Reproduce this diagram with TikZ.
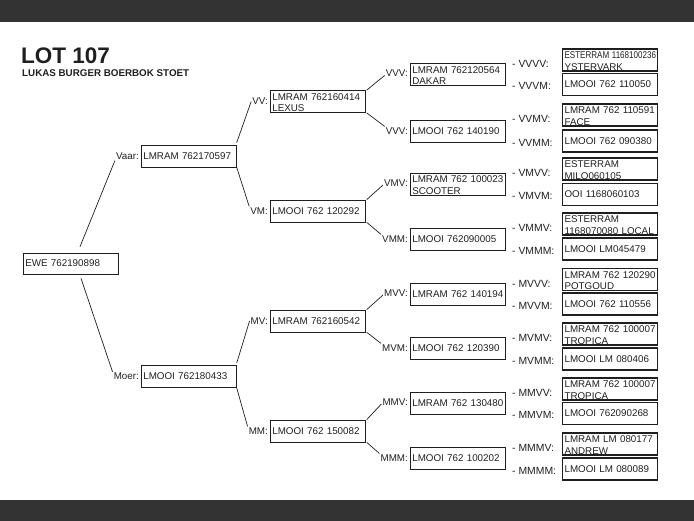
\documentclass[tikz,border=0pt]{standalone}
\usepackage{graphicx}
\usepackage{fontspec}
\setmainfont{Liberation Sans}
\usetikzlibrary{positioning, calc}
\definecolor{barGray}{rgb}{0.2, 0.2, 0.2}
\definecolor{inkGray}{rgb}{0.12, 0.12, 0.12}

\begin{document}
\begin{tikzpicture}[x=1pt, y=-1pt, font=\fontsize{9.8}{10.5}\selectfont, text=inkGray,
    animal/.style={draw=inkGray, line width=0.7pt, anchor=west, minimum width=95pt, minimum height=22pt,
        inner xsep=2pt, inner ysep=1pt, text width=91pt, align=left},
    twoline/.style={animal, font=\fontsize{9.8}{11.6}\selectfont, inner ysep=0.5pt, text height=9.2pt, text depth=11.8pt},
    outer/.style={line width=1.1pt},
    tag/.style={anchor=east, inner sep=1pt},
    gtag/.style={anchor=west, inner sep=1pt, font=\fontsize{10.4}{11}\selectfont},
    link/.style={draw=inkGray, line width=0.7pt}]
    \useasboundingbox (0,0) rectangle (694,521);

    % Frame bars
    \fill [barGray] (0,0) rectangle (694,22);
    \fill [barGray] (0,500) rectangle (694,521);

    % Title
    \node [anchor=base west, inner sep=0pt, font=\fontsize{22.5}{22.5}\selectfont\bfseries] (lot) at (21,63.5) {LOT 107};
    \node [anchor=base west, inner sep=0pt, font=\fontsize{9.8}{9.8}\selectfont\bfseries] (owner) at (22,77) {LUKAS BURGER BOERBOK STOET};

    % Ewe
    \node [animal, minimum height=21pt] (ewe) at (23,263.5) {EWE 762190898};

    % Parents
    \node [animal] (v) at (141,156) {LMRAM 762170597};
    \node [tag] (vtag) at ([xshift=-1pt]v.west) {Vaar:};
    \node [animal] (m) at (141,376.5) {LMOOI 762180433};
    \node [tag] (mtag) at ([xshift=-1pt]m.west) {Moer:};
    \draw [link] ([xshift=57pt,yshift=6pt]ewe.north west) -- (vtag.south west);
    \draw [link] ([xshift=58pt,yshift=-4pt]ewe.south west) -- (mtag.north west);

    % Grandparents
    \node [twoline] (vv) at (270,101.5) {LMRAM 762160414\\LEXUS};
    \node [tag] (vvtag) at ([xshift=-1pt]vv.west) {VV:};
    \node [animal] (vm) at (270,211) {LMOOI 762 120292};
    \node [tag] (vmtag) at ([xshift=-1pt]vm.west) {VM:};
    \node [animal] (mv) at (270,321) {LMRAM 762160542};
    \node [tag] (mvtag) at ([xshift=-1pt]mv.west) {MV:};
    \node [animal] (mm) at (270,431) {LMOOI 762 150082};
    \node [tag] (mmtag) at ([xshift=-1pt]mm.west) {MM:};
    \draw [link] ([yshift=2pt]v.north east) -- (vvtag.west);
    \draw [link] (v.south east) -- (vmtag.north west);
    \draw [link] ([yshift=2pt]m.north east) -- (mvtag.west);
    \draw [link] (m.south east) -- (mmtag.north west);

    % Great-grandparents
    \node [twoline] (vvv) at (410,74.5) {LMRAM 762120564\\DAKAR};
    \node [tag] (vvvtag) at ([xshift=-1pt,yshift=1pt]vvv.west) {VVV:};
    \node [animal] (vvm) at (410,131) {LMOOI 762 140190};
    \node [tag] (vvmtag) at ([xshift=-1pt]vvm.west) {VVV:};
    \node [twoline] (vmv) at (410,184) {LMRAM 762 100023\\SCOOTER};
    \node [tag] (vmvtag) at ([xshift=-1pt,yshift=1pt]vmv.west) {VMV:};
    \node [animal] (vmm) at (410,239) {LMOOI 762090005};
    \node [tag] (vmmtag) at ([xshift=-1pt]vmm.west) {VMM:};
    \node [animal] (mvv) at (410,294) {LMRAM 762 140194};
    \node [tag] (mvvtag) at ([xshift=-1pt,yshift=1pt]mvv.west) {MVV:};
    \node [animal] (mvm) at (410,348) {LMOOI 762 120390};
    \node [tag] (mvmtag) at ([xshift=-1pt]mvm.west) {MVM:};
    \node [animal] (mmv) at (410,403) {LMRAM 762 130480};
    \node [tag] (mmvtag) at ([xshift=-1pt,yshift=1pt]mmv.west) {MMV:};
    \node [animal] (mmm) at (410,458) {LMOOI 762 100202};
    \node [tag] (mmmtag) at ([xshift=-1pt]mmm.west) {MMM:};
    \foreach \p/\a/\b in {vv/vvv/vvm, vm/vmv/vmm, mv/mvv/mvm, mm/mmv/mmm} {
        \draw [link] ([xshift=1pt]\p.north east) -- ([yshift=-2pt]\a tag.west);
        \draw [link] ([xshift=1pt]\p.south east) -- (\b tag.north west);
    }

    % Great-great-grandparents
    \node [twoline, outer] (vvvv) at (562,60) {\scalebox{0.82}[1]{ESTERRAM 1168100236}\\YSTERVARK};
    \node [animal, outer] (vvvm) at (562,84.5) {LMOOI 762 110050};
    \node [twoline, outer] (vvmv) at (562,115) {LMRAM 762 110591\\FACE};
    \node [animal, outer] (vvmm) at (562,141) {LMOOI 762 090380};
    \node [twoline, outer] (vmvv) at (562,169) {ESTERRAM\\MILO060105};
    \node [animal, outer] (vmvm) at (562,194.5) {OOI 1168060103};
    \node [twoline, outer] (vmmv) at (562,224) {ESTERRAM\\1168070080 LOCAL};
    \node [animal, outer] (vmmm) at (562,249) {LMOOI LM045479};
    \node [twoline, outer] (mvvv) at (562,279.5) {LMRAM 762 120290\\POTGOUD};
    \node [animal, outer] (mvvm) at (562,304) {LMOOI 762 110556};
    \node [twoline, outer] (mvmv) at (562,334) {LMRAM 762 100007\\TROPICA};
    \node [animal, outer] (mvmm) at (562,359) {LMOOI LM 080406};
    \node [twoline, outer] (mmvv) at (562,389) {LMRAM 762 100007\\TROPICA};
    \node [animal, outer] (mmvm) at (562,413.5) {LMOOI 762090268};
    \node [twoline, outer] (mmmv) at (562,444) {LMRAM LM 080177\\ANDREW};
    \node [animal, outer] (mmmm) at (562,469) {LMOOI LM 080089};
    \foreach \n/\t/\s in {vvvv/VVVV/4, vvvm/VVVM/1.5, vvmv/VVMV/4, vvmm/VVMM/1.5,
                          vmvv/VMVV/4, vmvm/VMVM/1.5, vmmv/VMMV/4, vmmm/VMMM/1.5,
                          mvvv/MVVV/4, mvvm/MVVM/1.5, mvmv/MVMV/4, mvmm/MVMM/1.5,
                          mmvv/MMVV/4, mmvm/MMVM/1.5, mmmv/MMMV/4, mmmm/MMMM/1.5} {
        \node [gtag] (\n tag) at ([xshift=-51pt,yshift=-\s pt]\n.west) {- \t:};
    }
\end{tikzpicture}
\end{document}
